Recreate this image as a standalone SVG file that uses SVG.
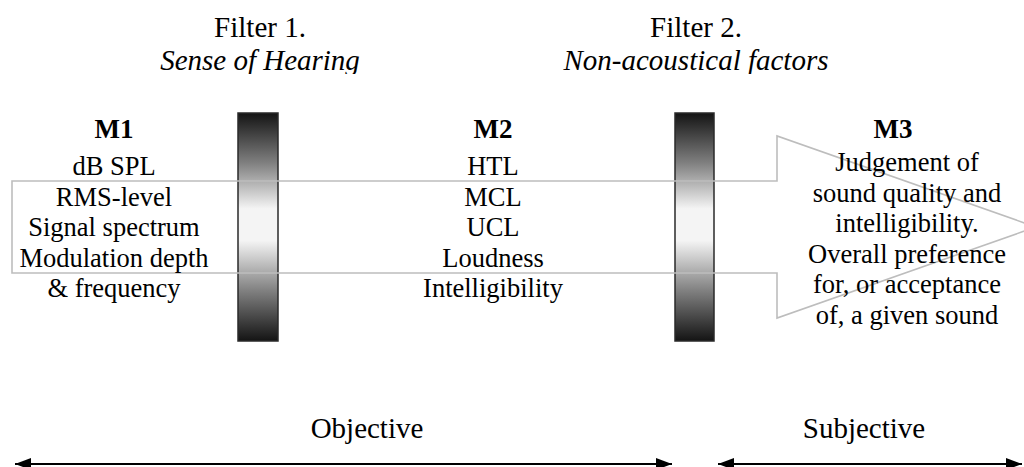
<svg xmlns="http://www.w3.org/2000/svg" width="1024" height="467" viewBox="0 0 1024 467">
  <defs>
    <linearGradient id="barShade" x1="0" y1="0" x2="0" y2="1">
      <stop offset="0" stop-color="#141414"/>
      <stop offset="0.22" stop-color="#808080"/>
      <stop offset="0.42" stop-color="#f4f4f4"/>
      <stop offset="0.56" stop-color="#f4f4f4"/>
      <stop offset="0.78" stop-color="#808080"/>
      <stop offset="1" stop-color="#141414"/>
    </linearGradient>
    <marker id="headEnd" viewBox="0 0 16 12" refX="16" refY="6" markerWidth="16" markerHeight="12" markerUnits="userSpaceOnUse" orient="auto">
      <path d="M0,0 L16,6 L0,12 Z" fill="#000"/>
    </marker>
    <marker id="headStart" viewBox="0 0 16 12" refX="0" refY="6" markerWidth="16" markerHeight="12" markerUnits="userSpaceOnUse" orient="auto">
      <path d="M16,0 L0,6 L16,12 Z" fill="#000"/>
    </marker>
    <clipPath id="titleClip">
      <rect x="0" y="0" width="1024" height="74"/>
    </clipPath>
  </defs>
  <style>
    text { font-family: "Liberation Serif", "Times New Roman", serif; fill: #000; text-anchor: middle; }
    .title { font-size: 29px; }
    .sub { font-size: 29px; font-style: italic; }
    .head { font-size: 27px; font-weight: bold; }
    .body { font-size: 26.5px; }
    .filter { fill: url(#barShade); stroke: #2a2a2a; stroke-width: 1.5; }
    .flow { fill: none; stroke: #bdbdbd; stroke-width: 1.6; }
    .span { fill: none; stroke: #000; stroke-width: 2; }
  </style>

  <!-- filters -->
  <g id="filter1">
    <rect class="filter" x="238" y="113" width="40" height="228"/>
    <text class="title" x="260" y="37">Filter 1.</text>
    <text class="sub" x="260" y="70" clip-path="url(#titleClip)">Sense of Hearing</text>
  </g>
  <g id="filter2">
    <rect class="filter" x="675" y="113" width="39" height="228"/>
    <text class="title" x="696" y="37">Filter 2.</text>
    <text class="sub" x="696" y="70" clip-path="url(#titleClip)">Non-acoustical factors</text>
  </g>

  <!-- signal flow outline arrow -->
  <g id="connectors">
    <path class="flow" d="M12,181 H777 V136 L1036,227 L777,318 V273 H12 Z"/>
    <line class="span" x1="15" y1="464" x2="672" y2="464" marker-start="url(#headStart)" marker-end="url(#headEnd)"/>
    <line class="span" x1="718" y1="464" x2="1022" y2="464" marker-start="url(#headStart)" marker-end="url(#headEnd)"/>
  </g>

  <!-- measurement stages -->
  <g id="m1">
    <text class="head" x="114" y="138">M1</text>
    <text class="body" x="114" y="175">dB SPL</text>
    <text class="body" x="114" y="205.5">RMS-level</text>
    <text class="body" x="114" y="236">Signal spectrum</text>
    <text class="body" x="114" y="266.5">Modulation depth</text>
    <text class="body" x="114" y="297">&amp; frequency</text>
  </g>
  <g id="m2">
    <text class="head" x="493" y="138">M2</text>
    <text class="body" x="493" y="175">HTL</text>
    <text class="body" x="493" y="205.5">MCL</text>
    <text class="body" x="493" y="236">UCL</text>
    <text class="body" x="493" y="266.5">Loudness</text>
    <text class="body" x="493" y="297">Intelligibility</text>
  </g>
  <g id="m3">
    <text class="head" x="893" y="138">M3</text>
    <text class="body" x="907" y="171">Judgement of</text>
    <text class="body" x="907" y="201.5">sound quality and</text>
    <text class="body" x="907" y="232">intelligibility.</text>
    <text class="body" x="907" y="262.5">Overall preference</text>
    <text class="body" x="907" y="293">for, or acceptance</text>
    <text class="body" x="907" y="323.5">of, a given sound</text>
  </g>

  <!-- range labels -->
  <g id="objective">
    <text class="title" x="367" y="438">Objective</text>
  </g>
  <g id="subjective">
    <text class="title" x="864" y="438">Subjective</text>
  </g>
</svg>
